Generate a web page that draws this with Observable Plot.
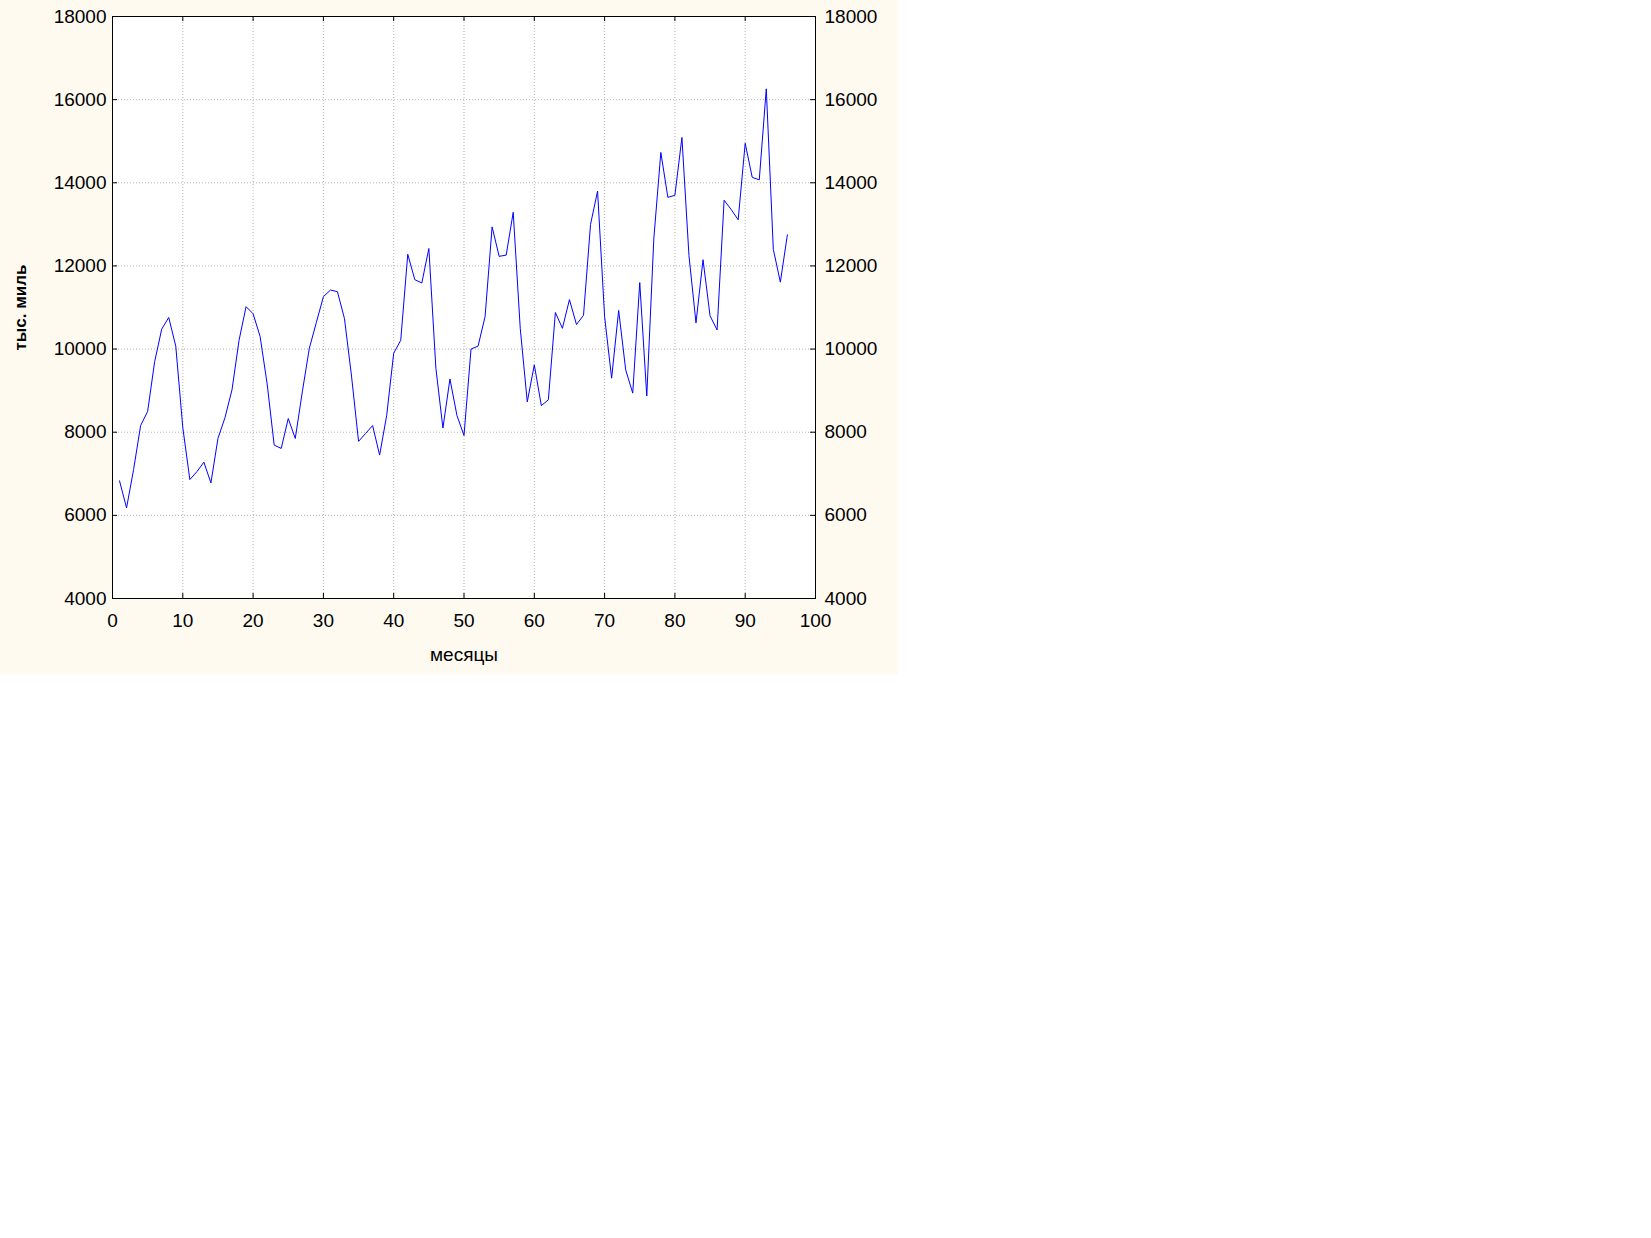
<!DOCTYPE html>
<html>
<head>
<meta charset="utf-8">
<script src="https://cdn.jsdelivr.net/npm/d3@7"></script>
<script src="https://cdn.jsdelivr.net/npm/@observablehq/plot@0.6"></script>
<style>
  html, body { margin: 0; padding: 0; background: #ffffff; }
  #wrap { position: absolute; left: 0; top: 0; width: 898px; height: 674px; background: #fffaf0; }
</style>
</head>
<body>
<div id="wrap"></div>
<script>
// Month index (x) and thousands of miles (y)
const months = d3.range(1, 97);
const miles = [
  6830, 6180, 7100, 8160, 8500, 9700, 10480, 10760, 10070, 8110,
  6860, 7050, 7280, 6780, 7850, 8350, 9020, 10210, 11020, 10850,
  10300, 9160, 7690, 7610, 8330, 7850, 8970, 10020, 10640, 11260,
  11420, 11380, 10730, 9350, 7780, 7970, 8160, 7450, 8400, 9900,
  10210, 12280, 11670, 11590, 12420, 9540, 8100, 9280, 8400, 7920,
  10000, 10070, 10780, 12940, 12230, 12260, 13290, 10500, 8730, 9620,
  8640, 8780, 10880, 10500, 11190, 10590, 10810, 13000, 13800, 10780,
  9300, 10930, 9500, 8940, 11600, 8870, 12650, 14730, 13650, 13700,
  15090, 12250, 10630, 12150, 10800, 10460, 13580, 13360, 13110, 14950,
  14130, 14070, 16260, 12400, 11610, 12750
];
const xTicks = [0, 10, 20, 30, 40, 50, 60, 70, 80, 90, 100];
const yTicks = [4000, 6000, 8000, 10000, 12000, 14000, 16000, 18000];
const xLabel = "месяцы";
const yLabel = "тыс. миль";

const data = months.map((m, i) => ({month: m, value: miles[i]}));

const W = 898, H = 674, mL = 112, mR = 83, mT = 16, mB = 76;
const innerW = W - mL - mR, innerH = H - mT - mB;
const font = "'Liberation Sans', Arial, sans-serif";

const chart = Plot.plot({
  width: W,
  height: H,
  marginLeft: mL,
  marginRight: mR,
  marginTop: mT,
  marginBottom: mB,
  style: {background: "transparent", fontFamily: font, fontSize: "19px", color: "#000", overflow: "visible"},
  x: {domain: [0, 100]},
  y: {domain: [4000, 18000]},
  marks: [
    Plot.frame({fill: "#ffffff", stroke: null}),
    Plot.gridX(xTicks, {stroke: "#b4b4b4", strokeOpacity: 1, strokeDasharray: "1,2"}),
    Plot.gridY(yTicks, {stroke: "#b4b4b4", strokeOpacity: 1, strokeDasharray: "1,2"}),
    Plot.line(data, {x: "month", y: "value", stroke: "#0000ff", strokeWidth: 1}),
    Plot.tickX(xTicks, {x: d => d, insetTop: innerH - 5, stroke: "#000"}),
    Plot.tickX(xTicks, {x: d => d, insetBottom: innerH - 5, stroke: "#000"}),
    Plot.tickY(yTicks, {y: d => d, insetRight: innerW - 5, stroke: "#000"}),
    Plot.tickY(yTicks, {y: d => d, insetLeft: innerW - 5, stroke: "#000"}),
    Plot.frame({stroke: "#000", strokeWidth: 1}),
    Plot.axisX(xTicks, {anchor: "bottom", tickSize: 0, tickPadding: 15, fontSize: 19, tickFormat: d => String(d),
      label: xLabel, labelAnchor: "center", labelOffset: 62, labelArrow: "none"}),
    Plot.axisY(yTicks, {anchor: "left", tickSize: 0, tickPadding: 6, fontSize: 19, tickFormat: d => String(d), label: null}),
    Plot.axisY(yTicks, {anchor: "right", tickSize: 0, tickPadding: 9, fontSize: 19, tickFormat: d => String(d), label: null}),
    Plot.axisY([], {anchor: "left", tickSize: 0, label: yLabel, labelAnchor: "center", labelOffset: 99,
      fontSize: 17, fontWeight: "bold", labelArrow: "none"})
  ]
});
document.getElementById("wrap").appendChild(chart);
</script>
</body>
</html>
